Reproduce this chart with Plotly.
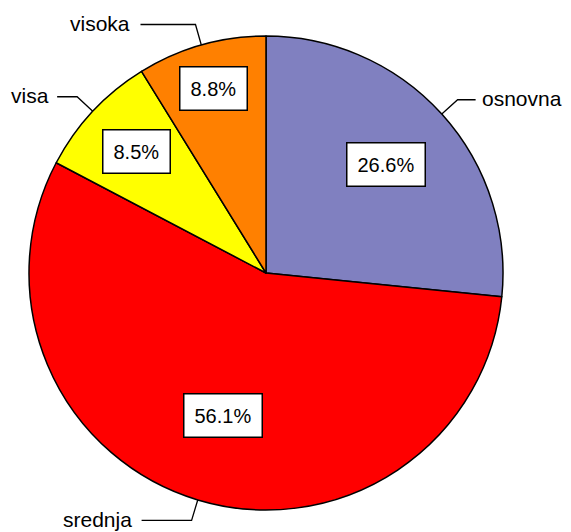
import math
import plotly.graph_objects as go

# ---- data ----
categories = ["osnovna", "srednja", "visa", "visoka"]
shares = [26.6, 56.1, 8.5, 8.8]
colors = ["#8080C0", "#FF0000", "#FFFF00", "#FF8000"]

# ---- layout parameters (not data) ----
W, H = 571, 532
CX, CY, R = 266, 273, 237          # pixel centre / radius of pie
box_radial = [0.68, 0.63, 0.75, 0.81]   # where the % boxes sit (fraction of R)
elbow_radial = 1.09
horiz_len = [18, -50, -20, -55]    # leader horizontal segment (px)
text_gap = [4, 8, 6, 8]
FONT = "Arial, Liberation Sans, sans-serif"

dom_x = [(CX - R) / W, (CX + R) / W]
dom_y = [(H - CY - R) / H, (H - CY + R) / H]


def px2paper(x, y):
    return x / W, (H - y) / H


fig = go.Figure(go.Pie(
    labels=categories,
    values=shares,
    sort=False,
    direction="clockwise",
    rotation=0,
    marker=dict(colors=colors, line=dict(color="black", width=1.5)),
    textinfo="none",
    hoverinfo="skip",
    showlegend=False,
    domain=dict(x=dom_x, y=dom_y),
))

total = sum(shares)
annotations = []
shapes = []
cum = 0.0
for i, (cat, v) in enumerate(zip(categories, shares)):
    mid = (cum + v / 2) / total * 2 * math.pi
    cum += v
    s, c = math.sin(mid), math.cos(mid)
    # percentage box
    bx, by = CX + box_radial[i] * R * s, CY - box_radial[i] * R * c
    px, py = px2paper(bx, by)
    annotations.append(dict(
        x=px, y=py, xref="paper", yref="paper", text=f"{v / total * 100:.1f}%",
        showarrow=False, font=dict(family=FONT, size=20, color="black"),
        bgcolor="white", bordercolor="black", borderwidth=1.5, borderpad=10,
        xanchor="center", yanchor="middle",
    ))
    # leader line
    x0, y0 = CX + R * s, CY - R * c
    x1, y1 = CX + elbow_radial * R * s, CY - elbow_radial * R * c
    x2, y2 = x1 + horiz_len[i], y1
    p0, p1, p2 = px2paper(x0, y0), px2paper(x1, y1), px2paper(x2, y2)
    shapes.append(dict(
        type="path", xref="paper", yref="paper",
        path=f"M {p0[0]} {p0[1]} L {p1[0]} {p1[1]} L {p2[0]} {p2[1]}",
        line=dict(color="black", width=1.3),
    ))
    side = 1 if horiz_len[i] > 0 else -1
    tx, ty = px2paper(x2 + side * text_gap[i], y2 - 1)
    annotations.append(dict(
        x=tx, y=ty, xref="paper", yref="paper", text=cat, showarrow=False,
        font=dict(family=FONT, size=21, color="black"),
        xanchor="left" if side > 0 else "right", yanchor="middle",
    ))

fig.update_layout(
    width=W, height=H,
    margin=dict(l=0, r=0, t=0, b=0),
    paper_bgcolor="white", plot_bgcolor="white",
    annotations=annotations, shapes=shapes,
)

fig.write_html(
    "out.html",
    config={"displayModeBar": False},
    post_script="document.body.style.margin='0px';document.body.style.overflow='hidden';",
)
